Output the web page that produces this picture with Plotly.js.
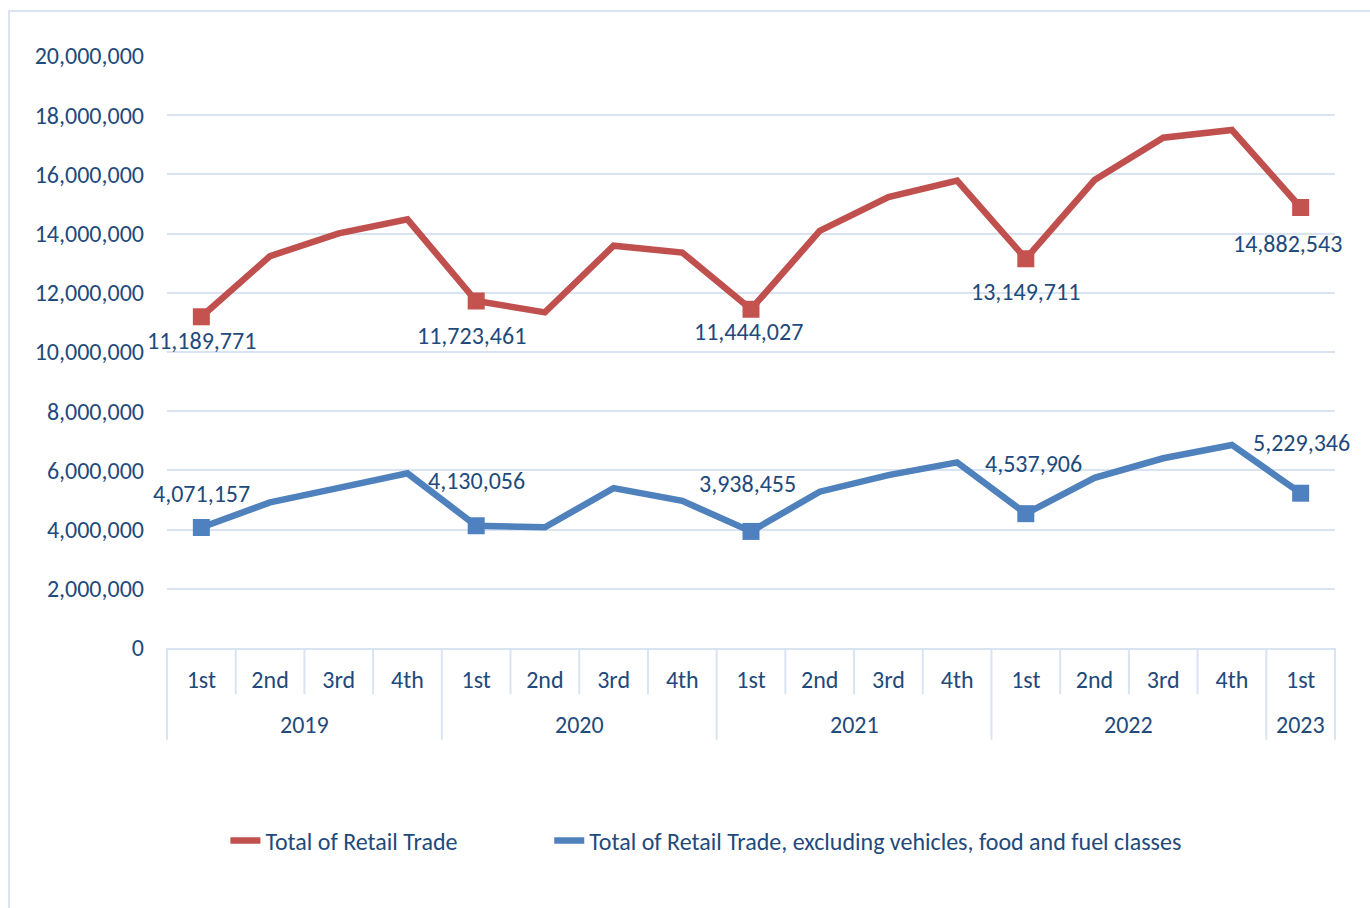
<!DOCTYPE html>
<html>
<head>
<meta charset="utf-8">
<script src="https://cdn.plot.ly/plotly-3.0.1.min.js"></script>
<style>html,body{margin:0;padding:0;background:#fff;}#chart{width:1370px;height:908px;}</style>
</head>
<body>
<div id="chart"></div>
<script>
const years = ['2019','2019','2019','2019','2020','2020','2020','2020','2021','2021','2021','2021','2022','2022','2022','2022','2023'];
const quarters = ['1st','2nd','3rd','4th','1st','2nd','3rd','4th','1st','2nd','3rd','4th','1st','2nd','3rd','4th','1st'];
const totalRetail = [11189771, 13240000, 14010000, 14480000, 11723461, 11340000, 13590000, 13360000, 11444027, 14090000, 15230000, 15790000, 13149711, 15810000, 17240000, 17500000, 14882543];
const retailExcl = [4071157, 4920000, 5410000, 5900000, 4130056, 4080000, 5400000, 4970000, 3938455, 5280000, 5840000, 6270000, 4537906, 5750000, 6410000, 6860000, 5229346];
const seriesNames = ['Total of Retail Trade', 'Total of Retail Trade, excluding vehicles, food and fuel classes'];

// label placement (pixel offsets of the Q1 data labels, style only)
const redLabelDy = [-24, -35, -22, -33, -36];
const redLabelDx = [0, -5, -3, 0, -13];
const blueLabelDy = [34, 45, 48, 50, 51];
const blueLabelDx = [0, 0, -4, 8, 1];

const TXT = '#1f4a7c';
const GRID = '#d9e4f2';
const RED = '#c0504d';
const BLUE = '#4f81bd';
const FONT = 'Carlito, Lato, sans-serif';
const FS = 24;

const cats = years.map((y, i) => y + ' ' + quarters[i]);
const isQ1 = quarters.map(q => q === '1st');
const fmt = v => v.toLocaleString('en-US');
const q1idx = isQ1.map((b, i) => b ? i : -1).filter(i => i >= 0);
const pad = '\u00a0'.repeat(16);

const traces = [
  {x: cats, y: totalRetail, type: 'scatter', mode: 'lines', name: seriesNames[0] + pad,
   line: {color: RED, width: 6.5}, hoverinfo: 'skip'},
  {x: cats, y: retailExcl, type: 'scatter', mode: 'lines', name: seriesNames[1],
   line: {color: BLUE, width: 6.5}, hoverinfo: 'skip'},
  {x: q1idx.map(i => cats[i]), y: q1idx.map(i => totalRetail[i]), type: 'scatter', mode: 'markers', showlegend: false,
   marker: {symbol: 'square', size: 17, color: '#c4524f', line: {width: 0}}, cliponaxis: false},
  {x: q1idx.map(i => cats[i]), y: q1idx.map(i => retailExcl[i]), type: 'scatter', mode: 'markers', showlegend: false,
   marker: {symbol: 'square', size: 17, color: '#4f80bf', line: {width: 0}}, cliponaxis: false}
];

const n = quarters.length;
const shapes = [];
for (let i = 0; i <= n; i++) {
  const yearEdge = (i === 0 || i === n || years[i] !== years[i - 1]);
  shapes.push({type: 'line', xref: 'paper', yref: 'paper', x0: i / n, x1: i / n,
    y0: 0, y1: yearEdge ? -0.155 : -0.078, line: {color: GRID, width: 2}});
}
// outer chart border
shapes.push({type: 'rect', xref: 'paper', yref: 'paper', x0: (9 - 167) / 1168, x1: (1380 - 167) / 1168,
  y0: (648 - 11) / 592, y1: (648 - 920) / 592, line: {color: GRID, width: 2}, fillcolor: 'rgba(0,0,0,0)'});

const annotations = [];
q1idx.forEach((i, k) => {
  annotations.push({x: cats[i], y: totalRetail[i], xref: 'x', yref: 'y', text: fmt(totalRetail[i]),
    showarrow: false, yshift: redLabelDy[k], xshift: redLabelDx[k],
    font: {family: FONT, size: FS, color: TXT}});
  annotations.push({x: cats[i], y: retailExcl[i], xref: 'x', yref: 'y', text: fmt(retailExcl[i]),
    showarrow: false, yshift: blueLabelDy[k], xshift: blueLabelDx[k],
    font: {family: FONT, size: FS, color: TXT}});
});
const uniqYears = [...new Set(years)];
uniqYears.forEach(yr => {
  const idx = years.map((y, i) => y === yr ? i : -1).filter(i => i >= 0);
  const mid = (idx[0] + idx[idx.length - 1]) / 2;
  annotations.push({x: mid, y: (648 - 724) / 592, xref: 'x', yref: 'paper', text: yr, showarrow: false,
    yanchor: 'middle', font: {family: FONT, size: FS, color: TXT}});
});

const layout = {
  width: 1370, height: 908,
  margin: {l: 167, r: 35, t: 56, b: 260},
  paper_bgcolor: '#fff', plot_bgcolor: '#fff',
  font: {family: FONT, size: FS, color: TXT},
  showlegend: true,
  legend: {orientation: 'h', x: 0.05, xanchor: 'left', y: -0.326, yanchor: 'middle',
           font: {family: FONT, size: FS, color: TXT}, itemwidth: 30, traceorder: 'normal'},
  xaxis: {type: 'category', range: [-0.5, n - 0.5], tickvals: cats, ticktext: quarters,
          showgrid: false, showline: true, linecolor: GRID, linewidth: 2,
          ticks: '', ticklabelstandoff: 9, tickfont: {family: FONT, size: FS, color: TXT}, zeroline: false},
  yaxis: {range: [0, 20000000], dtick: 2000000, tickformat: ',d', showgrid: true, gridcolor: GRID, gridwidth: 2,
          zeroline: false, showline: false, ticks: '', ticklabelstandoff: 22,
          tickfont: {family: FONT, size: FS, color: TXT}},
  shapes: shapes,
  annotations: annotations
};

Plotly.newPlot('chart', traces, layout, {displayModeBar: false, staticPlot: true});
</script>
</body>
</html>
